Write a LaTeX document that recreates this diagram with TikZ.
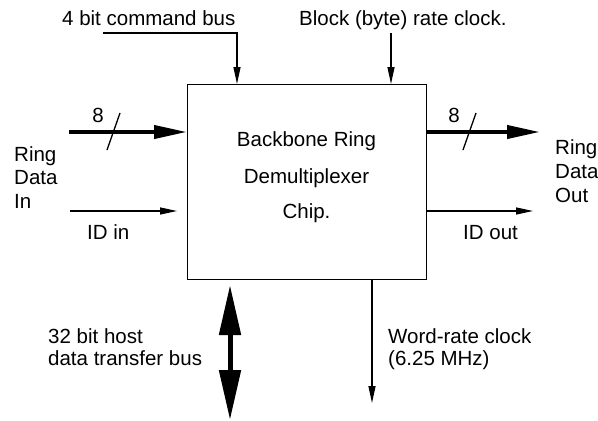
\documentclass[tikz,border=0pt]{standalone}
\usepackage{fontspec}
\setmainfont{Liberation Sans}
\usetikzlibrary{arrows.meta}
\begin{document}
\begin{tikzpicture}[x=1pt,y=-1pt,
  lbl/.style={inner sep=0pt,anchor=base west,font=\fontsize{20.5}{24}\selectfont},
  ctr/.style={inner sep=0pt,anchor=base,font=\fontsize{20.5}{24}\selectfont},
  wire/.style={line width=1.3pt},
  sig/.style={wire,-{Triangle[length=17pt,width=7pt]}},
  bus/.style={line width=4pt,-{Triangle[length=33pt,width=13pt]}},
  hostbus/.style={line width=5pt,{Triangle[length=50pt,width=21pt]}-{Triangle[length=50pt,width=21pt]}},
  tick/.style={line width=1.3pt}]
\useasboundingbox (0,0) rectangle (598,421);

% chip body
\node[draw,line width=1.3pt,minimum width=239pt,minimum height=195pt,
      inner sep=0pt,anchor=north west] (chip) at (187,84) {};
\node[ctr] (t1) at (306.5,146) {Backbone Ring};
\node[ctr] (t2) at (306.5,183) {Demultiplexer};
\node[ctr] (t3) at (306.5,218) {Chip.};

% control inputs on top
\coordinate (cmdsrc) at (103,33);
\coordinate (cmdin) at (237,84);
\draw[sig] (cmdsrc) -| (cmdin);
\node[lbl] (cmdlbl) at (62,25) {4 bit command bus};

\coordinate (clksrc) at (391,33);
\coordinate (clkin) at (391,84);
\draw[sig] (clksrc) -- (clkin);
\node[lbl] (clklbl) at (299,25) {Block (byte) rate clock.};

% ring data in
\coordinate (rdisrc) at (69,132);
\coordinate (rdiin) at (187,132);
\draw[bus] (rdisrc) -- (rdiin);
\coordinate (s1a) at (107,150);
\coordinate (s1b) at (120,113);
\draw[tick] (s1a) -- (s1b);
\node[ctr] (w1) at (98,122) {8};
\node[lbl] (rin1) at (14,161) {Ring};
\node[lbl] (rin2) at (14,184) {Data};
\node[lbl] (rin3) at (14,208) {In};

\coordinate (idisrc) at (70,211);
\coordinate (idiin) at (177,211);
\draw[sig] (idisrc) -- (idiin);
\node[lbl] (idilbl) at (87,239) {ID in};

% ring data out
\coordinate (rdoout) at (426,132);
\coordinate (rdodst) at (540,132);
\draw[bus] (rdoout) -- (rdodst);
\coordinate (s2a) at (463,150);
\coordinate (s2b) at (476,113);
\draw[tick] (s2a) -- (s2b);
\node[ctr] (w2) at (454,122) {8};
\node[lbl] (rout1) at (555,154) {Ring};
\node[lbl] (rout2) at (555,178) {Data};
\node[lbl] (rout3) at (555,202) {Out};

\coordinate (idoout) at (426,211);
\coordinate (idodst) at (533,211);
\draw[sig] (idoout) -- (idodst);
\node[lbl] (idolbl) at (463,239) {ID out};

% host bus and word clock
\coordinate (hbtop) at (230,285);
\coordinate (hbbot) at (230,420);
\draw[hostbus] (hbtop) -- (hbbot);
\node[lbl] (hb1) at (48,343) {32 bit host};
\node[lbl] (hb2) at (48,365) {data transfer bus};

\coordinate (wcout) at (372,279);
\coordinate (wcdst) at (372,403);
\draw[sig] (wcout) -- (wcdst);
\node[lbl] (wc1) at (388,343) {Word-rate clock};
\node[lbl] (wc2) at (388,365) {(6.25 MHz)};
\end{tikzpicture}
\end{document}
